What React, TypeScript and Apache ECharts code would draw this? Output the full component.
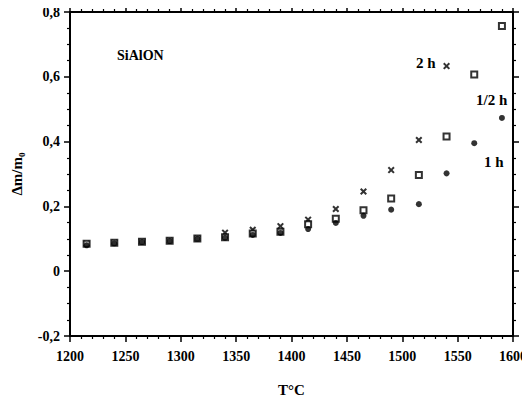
import React, { useEffect, useRef } from "react";
import * as echarts from "echarts";

const temps = [1215, 1240, 1265, 1290, 1315, 1340, 1365, 1390, 1415, 1440, 1465, 1490, 1515, 1540, 1565, 1590];
const twoHour = [0.085, 0.088, 0.091, 0.094, 0.101, 0.119, 0.128, 0.139, 0.159, 0.192, 0.246, 0.312, 0.405, 0.633];
const halfHour = [0.085, 0.088, 0.091, 0.094, 0.101, 0.105, 0.116, 0.122, 0.145, 0.162, 0.188, 0.224, 0.297, 0.416, 0.607, 0.757];
const oneHour = [0.08, 0.086, 0.09, 0.093, 0.1, 0.103, 0.112, 0.118, 0.13, 0.149, 0.171, 0.19, 0.207, 0.302, 0.395, 0.473];
const seriesNames = ["2 h", "1/2 h", "1 h"];

const FONT = "'Liberation Serif', 'Times New Roman', serif";
const crossPath =
  "path://M0,2L2,0L5,3L8,0L10,2L7,5L10,8L8,10L5,7L2,10L0,8L3,5Z";

function pairs(vals: number[]) {
  return vals.map((v, i) => [temps[i], v]);
}

const fmtY = (v: number) => (Math.abs(v) < 1e-9 ? "0" : v.toFixed(1).replace(".", ","));
const fmtX = (v: number) => String(Math.round(v));

export default function App() {
  const ref = useRef<HTMLDivElement>(null);
  useEffect(() => {
    if (!ref.current) return;
    const chart = echarts.init(ref.current, null, { renderer: "svg" });
    const axisLine = { show: true, onZero: false, lineStyle: { color: "#000", width: 2 } };
    const tick = { show: true, inside: false, length: 6, lineStyle: { color: "#000", width: 1.5 } };
    const minor = (n: number) => ({ show: true, splitNumber: n, length: 3, lineStyle: { color: "#000", width: 1.2 } });
    const label = { color: "#000", fontFamily: FONT, fontWeight: "bold" as const, fontSize: 14 };
    chart.setOption({
      animation: false,
      backgroundColor: "#fff",
      grid: { left: 70, right: 10, top: 12, bottom: 74, containLabel: false },
      xAxis: [
        {
          type: "value",
          min: 1200,
          max: 1600,
          interval: 50,
          position: "bottom",
          axisLine,
          axisTick: tick,
          minorTick: minor(5),
          splitLine: { show: false },
          axisLabel: { ...label, margin: 13, formatter: fmtX },
          name: "T°C",
          nameLocation: "middle",
          nameGap: 54,
          nameTextStyle: { ...label, fontSize: 15, verticalAlign: "middle" },
        },
        {
          type: "value",
          min: 1200,
          max: 1600,
          interval: 50,
          position: "top",
          axisLine,
          axisTick: tick,
          minorTick: minor(5),
          splitLine: { show: false },
          axisLabel: { show: false },
        },
      ],
      yAxis: [
        {
          type: "value",
          min: -0.2,
          max: 0.8,
          interval: 0.2,
          position: "left",
          axisLine,
          axisTick: tick,
          minorTick: minor(4),
          splitLine: { show: false },
          axisLabel: { ...label, margin: 10, formatter: fmtY },
          name: "Δm/m₀",
          nameLocation: "middle",
          nameRotate: 90,
          nameGap: 46,
          nameTextStyle: { ...label, fontSize: 15 },
        },
        {
          type: "value",
          min: -0.2,
          max: 0.8,
          interval: 0.2,
          position: "right",
          axisLine,
          axisTick: tick,
          minorTick: minor(4),
          splitLine: { show: false },
          axisLabel: { show: false },
        },
      ],
      series: [
        {
          name: seriesNames[0],
          type: "scatter",
          data: pairs(twoHour),
          symbol: crossPath,
          symbolSize: 7,
          itemStyle: { color: "#000" },
          z: 3,
        },
        {
          name: seriesNames[1],
          type: "scatter",
          data: pairs(halfHour),
          symbol: "rect",
          symbolSize: 6,
          itemStyle: { color: "#fff", borderColor: "#000", borderWidth: 2 },
          z: 4,
        },
        {
          name: seriesNames[2],
          type: "scatter",
          data: pairs(oneHour),
          symbol: "circle",
          symbolSize: 6,
          itemStyle: { color: "#000" },
          z: 5,
        },
      ],
      graphic: [
        { type: "text", left: 117, top: 48, style: { text: "SiAlON", font: `bold 14px ${FONT}`, fill: "#000" } },
        { type: "text", left: 416, top: 55, style: { text: seriesNames[0], font: `bold 15px ${FONT}`, fill: "#000" } },
        { type: "text", left: 476, top: 92, style: { text: seriesNames[1], font: `bold 15px ${FONT}`, fill: "#000" } },
        { type: "text", left: 484, top: 154, style: { text: seriesNames[2], font: `bold 15px ${FONT}`, fill: "#000" } },
      ],
    });
    return () => chart.dispose();
  }, []);
  return <div ref={ref} style={{ width: 530, height: 410, margin: -8 }} />;
}
